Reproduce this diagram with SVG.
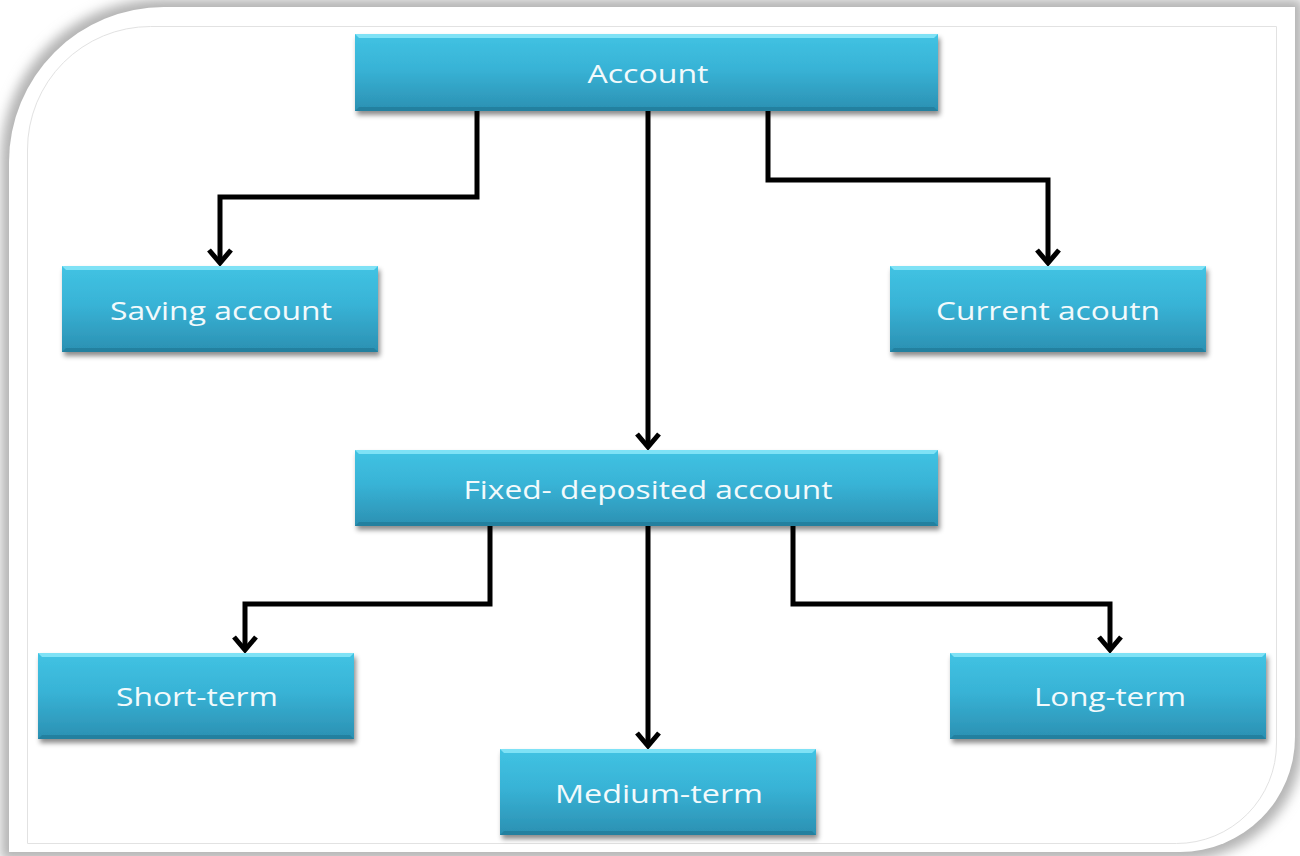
<svg xmlns="http://www.w3.org/2000/svg" width="1300" height="856" viewBox="0 0 1300 856">
  <defs>
    <linearGradient id="boxGrad" x1="0" y1="0" x2="0" y2="1">
      <stop offset="0" stop-color="#41c3e3"/>
      <stop offset="0.45" stop-color="#38b3d6"/>
      <stop offset="1" stop-color="#2b90b2"/>
    </linearGradient>
    <filter id="boxShadow" x="-5%" y="-20%" width="112%" height="150%">
      <feDropShadow dx="2" dy="4" stdDeviation="2.5" flood-color="#000" flood-opacity="0.45"/>
    </filter>
    <filter id="frameShadow" x="-5%" y="-5%" width="110%" height="110%">
      <feGaussianBlur stdDeviation="6"/>
    </filter>
    <marker id="arrow" markerUnits="userSpaceOnUse" markerWidth="32" markerHeight="32" viewBox="-17 -16 22 32" refX="0" refY="0" orient="auto">
      <path d="M -13,-11 L 0,0 L -13,11" fill="none" stroke="#000" stroke-width="5" stroke-linejoin="miter"/>
    </marker>
    <style>
      .lbl { font-family: "Open Sans", "Liberation Sans", sans-serif; font-size: 25px; fill: #f2fafc; text-anchor: middle; dominant-baseline: central; }
      .conn { fill: none; stroke: #000; stroke-width: 5; stroke-linejoin: miter; }
      .hi { fill: #7fe2f6; }
      .lo { fill: #23809f; }
    </style>
  </defs>

  <rect x="0" y="0" width="1300" height="856" fill="#ffffff"/>

  <g id="frame">
    <path d="M 1,163 A 160 160 0 0 1 161,-1 L 1303,-1 L 1303,740 A 120 120 0 0 1 1183,860 L 1,860 Z" fill="#b4b4b4" filter="url(#frameShadow)"/>
    <path d="M 9,162 A 155 155 0 0 1 164,7 L 1295,7 L 1295,737 A 115 115 0 0 1 1180,852 L 9,852 Z" fill="#ffffff"/>
    <path d="M 27.5,150 A 123 123 0 0 1 150.5,26.5 L 1276.5,26.5 L 1276.5,743 A 100 100 0 0 1 1176.5,843.5 L 27.5,843.5 Z" fill="none" stroke="#e2e2e2" stroke-width="1"/>
  </g>

  <g id="connectors">
    <path class="conn" d="M 477,111 L 477,197 L 220,197 L 220,263" marker-end="url(#arrow)"/>
    <path class="conn" d="M 648,111 L 648,447" marker-end="url(#arrow)"/>
    <path class="conn" d="M 768,111 L 768,180 L 1048,180 L 1048,263" marker-end="url(#arrow)"/>
    <path class="conn" d="M 490,526 L 490,604 L 245,604 L 245,650" marker-end="url(#arrow)"/>
    <path class="conn" d="M 648,526 L 648,746" marker-end="url(#arrow)"/>
    <path class="conn" d="M 793,526 L 793,604 L 1110,604 L 1110,650" marker-end="url(#arrow)"/>
  </g>

  <g id="node-account">
    <rect x="355" y="34" width="583" height="77" fill="url(#boxGrad)" filter="url(#boxShadow)"/>
    <polygon class="hi" points="355,34 938,34 934,38 359,38"/>
    <polygon class="lo" points="355,111 938,111 934,107 359,107"/>
    <text class="lbl" x="648" y="73" textLength="121" lengthAdjust="spacingAndGlyphs">Account</text>
  </g>

  <g id="node-saving">
    <rect x="62" y="266" width="316" height="86" fill="url(#boxGrad)" filter="url(#boxShadow)"/>
    <polygon class="hi" points="62,266 378,266 374,270 66,270"/>
    <polygon class="lo" points="62,352 378,352 374,348 66,348"/>
    <text class="lbl" x="221" y="310" textLength="222" lengthAdjust="spacingAndGlyphs">Saving account</text>
  </g>

  <g id="node-current">
    <rect x="890" y="266" width="316" height="86" fill="url(#boxGrad)" filter="url(#boxShadow)"/>
    <polygon class="hi" points="890,266 1206,266 1202,270 894,270"/>
    <polygon class="lo" points="890,352 1206,352 1202,348 894,348"/>
    <text class="lbl" x="1048" y="310" textLength="224" lengthAdjust="spacingAndGlyphs">Current acoutn</text>
  </g>

  <g id="node-fixed">
    <rect x="355" y="450" width="583" height="76" fill="url(#boxGrad)" filter="url(#boxShadow)"/>
    <polygon class="hi" points="355,450 938,450 934,454 359,454"/>
    <polygon class="lo" points="355,526 938,526 934,522 359,522"/>
    <text class="lbl" x="648" y="489" textLength="369" lengthAdjust="spacingAndGlyphs">Fixed- deposited account</text>
  </g>

  <g id="node-short">
    <rect x="38" y="653" width="316" height="86" fill="url(#boxGrad)" filter="url(#boxShadow)"/>
    <polygon class="hi" points="38,653 354,653 350,657 42,657"/>
    <polygon class="lo" points="38,739 354,739 350,735 42,735"/>
    <text class="lbl" x="197" y="696" textLength="162" lengthAdjust="spacingAndGlyphs">Short-term</text>
  </g>

  <g id="node-long">
    <rect x="950" y="653" width="316" height="86" fill="url(#boxGrad)" filter="url(#boxShadow)"/>
    <polygon class="hi" points="950,653 1266,653 1262,657 954,657"/>
    <polygon class="lo" points="950,739 1266,739 1262,735 954,735"/>
    <text class="lbl" x="1110" y="696" textLength="152" lengthAdjust="spacingAndGlyphs">Long-term</text>
  </g>

  <g id="node-medium">
    <rect x="500" y="749" width="316" height="86" fill="url(#boxGrad)" filter="url(#boxShadow)"/>
    <polygon class="hi" points="500,749 816,749 812,753 504,753"/>
    <polygon class="lo" points="500,835 816,835 812,831 504,831"/>
    <text class="lbl" x="659" y="793" textLength="208" lengthAdjust="spacingAndGlyphs">Medium-term</text>
  </g>
</svg>
